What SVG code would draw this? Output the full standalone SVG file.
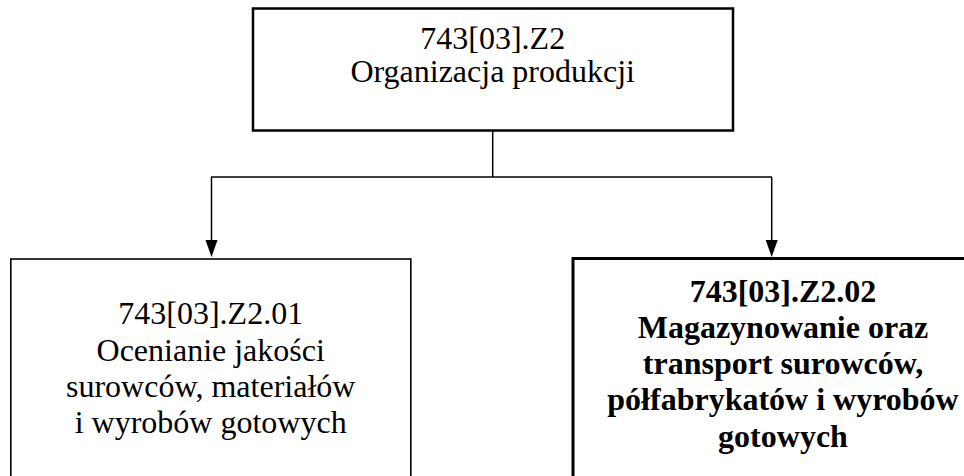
<svg xmlns="http://www.w3.org/2000/svg" width="964" height="476" viewBox="0 0 964 476">
<style>
.box{fill:#fff;stroke:#000}
.t{font-size:32px;fill:#000;text-anchor:middle}
.b{font-weight:bold}
.c{fill:none;stroke:#000;stroke-width:1.5}
</style>
<rect width="964" height="476" fill="#fff"/>
<g id="connectors">
<line class="c" x1="492.7" y1="130" x2="492.7" y2="177"/>
<line class="c" x1="211" y1="177" x2="772" y2="177"/>
<line class="c" x1="211.5" y1="177" x2="211.5" y2="241"/>
<line class="c" x1="771.7" y1="177" x2="771.7" y2="241"/>
<path d="M205.5,240 L217.5,240 L211.5,257 Z" fill="#000"/>
<path d="M765.7,240 L777.7,240 L771.7,257 Z" fill="#000"/>
</g>
<g id="node-top" font-family="Liberation Serif, DejaVu Serif, serif">
<rect class="box" x="253" y="8.5" width="480" height="122" stroke-width="2.5"/>
<text class="t" x="492.7" y="48.5">743[03].Z2</text>
<text class="t" x="492.7" y="82">Organizacja produkcji</text>
</g>
<g id="node-left" font-family="Liberation Serif, DejaVu Serif, serif">
<rect class="box" x="10.8" y="259" width="400" height="240" stroke-width="1.6"/>
<text class="t" x="210.7" y="324">743[03].Z2.01</text>
<text class="t" x="210.7" y="360.5">Ocenianie jakości</text>
<text class="t" x="210.7" y="397">surowców, materiałów</text>
<text class="t" x="210.7" y="433.3">i wyrobów gotowych</text>
</g>
<g id="node-right" font-family="Liberation Serif, DejaVu Serif, serif">
<rect class="box" x="573" y="258.5" width="421" height="240" stroke-width="3"/>
<text class="t b" x="783" y="301.7">743[03].Z2.02</text>
<text class="t b" x="783" y="338">Magazynowanie oraz</text>
<text class="t b" x="783" y="374.2">transport surowców,</text>
<text class="t b" x="783" y="410.4">półfabrykatów i wyrobów</text>
<text class="t b" x="783" y="446.7">gotowych</text>
</g>
</svg>
